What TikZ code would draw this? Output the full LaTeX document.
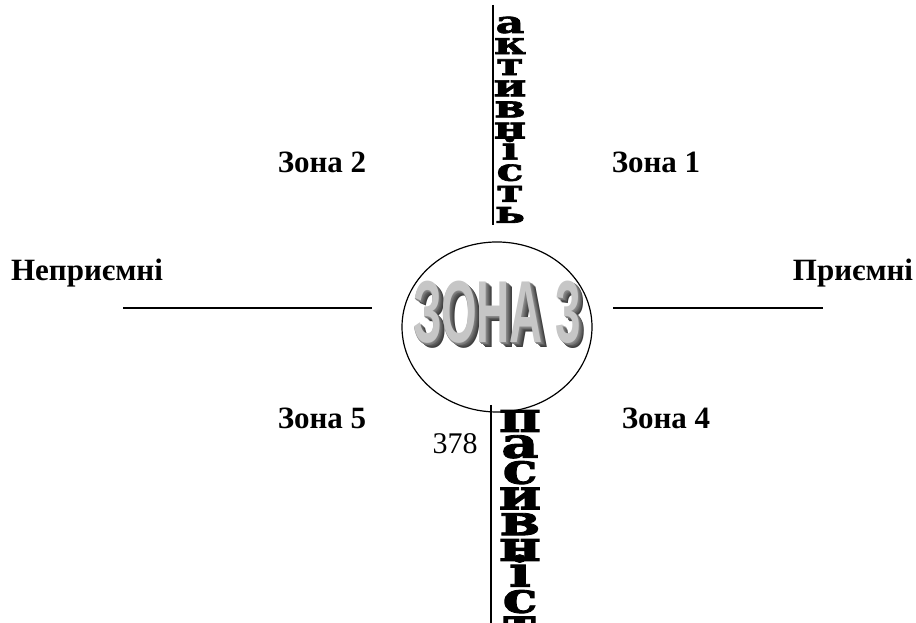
\documentclass[tikz,border=0pt]{standalone}
\usepackage{fontspec}
\setmainfont{Liberation Serif}
\newfontfamily\slabfont[BoldFeatures={FakeBold=2}]{DejaVu Serif}
\newfontfamily\artfont{Liberation Sans}
\usepackage{xcolor}
\usepackage{tikz}
\usetikzlibrary{positioning,shapes.geometric}

\tikzset{
  zonelabel/.style={font=\bfseries\fontsize{31}{33}\selectfont, inner sep=0pt},
  axisline/.style={line width=1.2pt},
  topletter/.style={font=\slabfont\bfseries\fontsize{34}{34}\selectfont, inner sep=0pt, anchor=base, transform shape, xscale=1.3, yscale=0.9},
  botletter/.style={font=\slabfont\bfseries\fontsize{46}{46}\selectfont, inner sep=0pt, anchor=base, transform shape, xscale=1.25, yscale=0.92},
  artlayer/.style={font=\artfont\bfseries\fontsize{88}{88}\selectfont, inner sep=0pt, transform shape, xscale=0.52}
}

\begin{document}
\begin{tikzpicture}[x=1pt,y=1pt]
\useasboundingbox (0,0) rectangle (916,623);
\begin{scope}
\clip (0,0) rectangle (916,623);
% axes
\coordinate (topA) at (493,618);
\coordinate (topB) at (493,398);
\coordinate (botA) at (491,218);
\coordinate (botB) at (491,0);
\coordinate (leftA) at (123,315);
\coordinate (leftB) at (372,315);
\coordinate (rightA) at (613,315);
\coordinate (rightB) at (823,315);
\draw[axisline] (topA) -- (topB);
\draw[axisline] (botA) -- (botB);
\draw[axisline] (leftA) -- (leftB);
\draw[axisline] (rightA) -- (rightB);
% central zone
\node[draw, line width=1.2pt, ellipse, minimum width=190pt, minimum height=170pt, inner sep=0pt] (zone3) at (497,296) {};
\foreach \k in {6,5,...,1}
{\node[artlayer, text=black!\the\numexpr 40+6*\k\relax] at (497+0.9*\k,311-0.9*\k) {ЗОНА 3};}
\node[artlayer, text=gray!45] (zone3text) at (497,311) {ЗОНА 3};
% vertical words
\foreach \ch [count=\i from 0] in {а,к,т,и,в,н,і,с,т,ь}
{\node[topletter] (act\i) at (510,590-21.1*\i) {\ch};}
\foreach \ch [count=\i from 0] in {п,а,с,и,в,н,і,с,т,ь}
{\node[botletter] (pas\i) at (520,191-25.8*\i) {\ch};}
\end{scope}
% labels
\node[zonelabel] (zone2) at (322,461) {Зона 2};
\node[zonelabel] (zone1) at (656,461) {Зона 1};
\node[zonelabel] (neg) at (87,350) {Неприємні};
\node[zonelabel] (pos) at (853,350) {Приємні};
\node[zonelabel] (zone5) at (322,205) {Зона 5};
\node[zonelabel] (zone4) at (666,205) {Зона 4};
\node[font=\fontsize{30}{32}\selectfont, inner sep=0pt] (page) at (455,179) {378};
\end{tikzpicture}
\end{document}
